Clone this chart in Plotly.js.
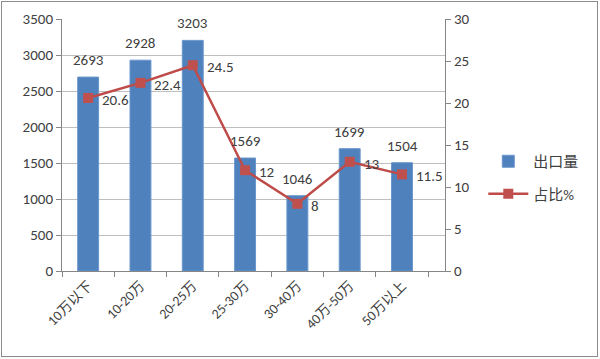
<!DOCTYPE html>
<html><head><meta charset="utf-8">
<script src="https://cdn.plot.ly/plotly-3.0.1.min.js"></script>
<style>html,body{margin:0;padding:0;background:#fff}#wrap{position:relative;width:600px;height:359px}#frame{position:absolute;left:1px;top:1px;width:595px;height:354px;border:1px solid #8c8c8c;pointer-events:none}</style>
</head><body><div id="wrap"><div id="chart" style="width:600px;height:359px"></div><div id="frame"></div></div>
<script>
const categories = ['10万以下','10-20万','20-25万','25-30万','30-40万','40万-50万','50万以上'];
const exportVolume = [2693, 2928, 3203, 1569, 1046, 1699, 1504];
const sharePct = [20.6, 22.4, 24.5, 12, 8, 13, 11.5];
const font = 'Calibri, Carlito, "Open Sans", "Noto Sans CJK SC", sans-serif';
const traces = [
  {type:'bar', name:'出口量', x:categories, y:exportVolume, legendgroup:'a',
   marker:{color:'#4F81BD', line:{color:'#6A96CC', width:1}}},
  {type:'scatter', mode:'lines+markers', name:'占比%', x:categories, y:sharePct, yaxis:'y2', legendgroup:'b',
   line:{color:'#BE4B48', width:2.5}, marker:{symbol:'square', size:10, color:'#C0504D'}, cliponaxis:false}
];
const annotations = [];
categories.forEach((c, i) => {
  annotations.push({x:c, y:exportVolume[i], xref:'x', yref:'y', text:String(exportVolume[i]), showarrow:false,
    yanchor:'bottom', yshift:6, font:{size:15, color:'#404040', family:font}});
  annotations.push({x:c, y:sharePct[i], xref:'x', yref:'y2', text:String(sharePct[i]), showarrow:false,
    xanchor:'left', xshift:12, yshift:-2, font:{size:15, color:'#404040', family:font}});
});
const layout = {
  width:600, height:359, margin:{l:62, r:155, t:19, b:88, autoexpand:false},
  paper_bgcolor:'#fff', plot_bgcolor:'#fff',
  font:{family:font, size:13, color:'#404040'},
  bargap:0.6, showlegend:true, annotations:annotations,
  legend:{x:1.1, y:0.5, xanchor:'left', yanchor:'top', traceorder:'grouped', tracegroupgap:10,
    font:{size:15, family:font, color:'#404040'}, itemwidth:40},
  xaxis:{type:'category', tickangle:-45, ticks:'outside', ticklen:5, tickcolor:'#868686', tickson:'boundaries',
    showline:true, linecolor:'#868686', linewidth:1, showgrid:false, tickfont:{size:14, family:font}},
  yaxis:{range:[0,3500], dtick:500, ticks:'outside', ticklen:5, tickcolor:'#868686', showline:true, linecolor:'#868686',
    gridcolor:'#BFBFBF', gridwidth:1, zeroline:false, tickfont:{size:15, family:font}},
  yaxis2:{range:[0,30], dtick:5, overlaying:'y', side:'right', ticks:'outside', ticklen:5, tickcolor:'#868686',
    showline:true, linecolor:'#868686', showgrid:false, zeroline:false, tickfont:{size:15, family:font}}
};
Plotly.newPlot('chart', traces, layout, {displayModeBar:false, staticPlot:true});
</script></body></html>
